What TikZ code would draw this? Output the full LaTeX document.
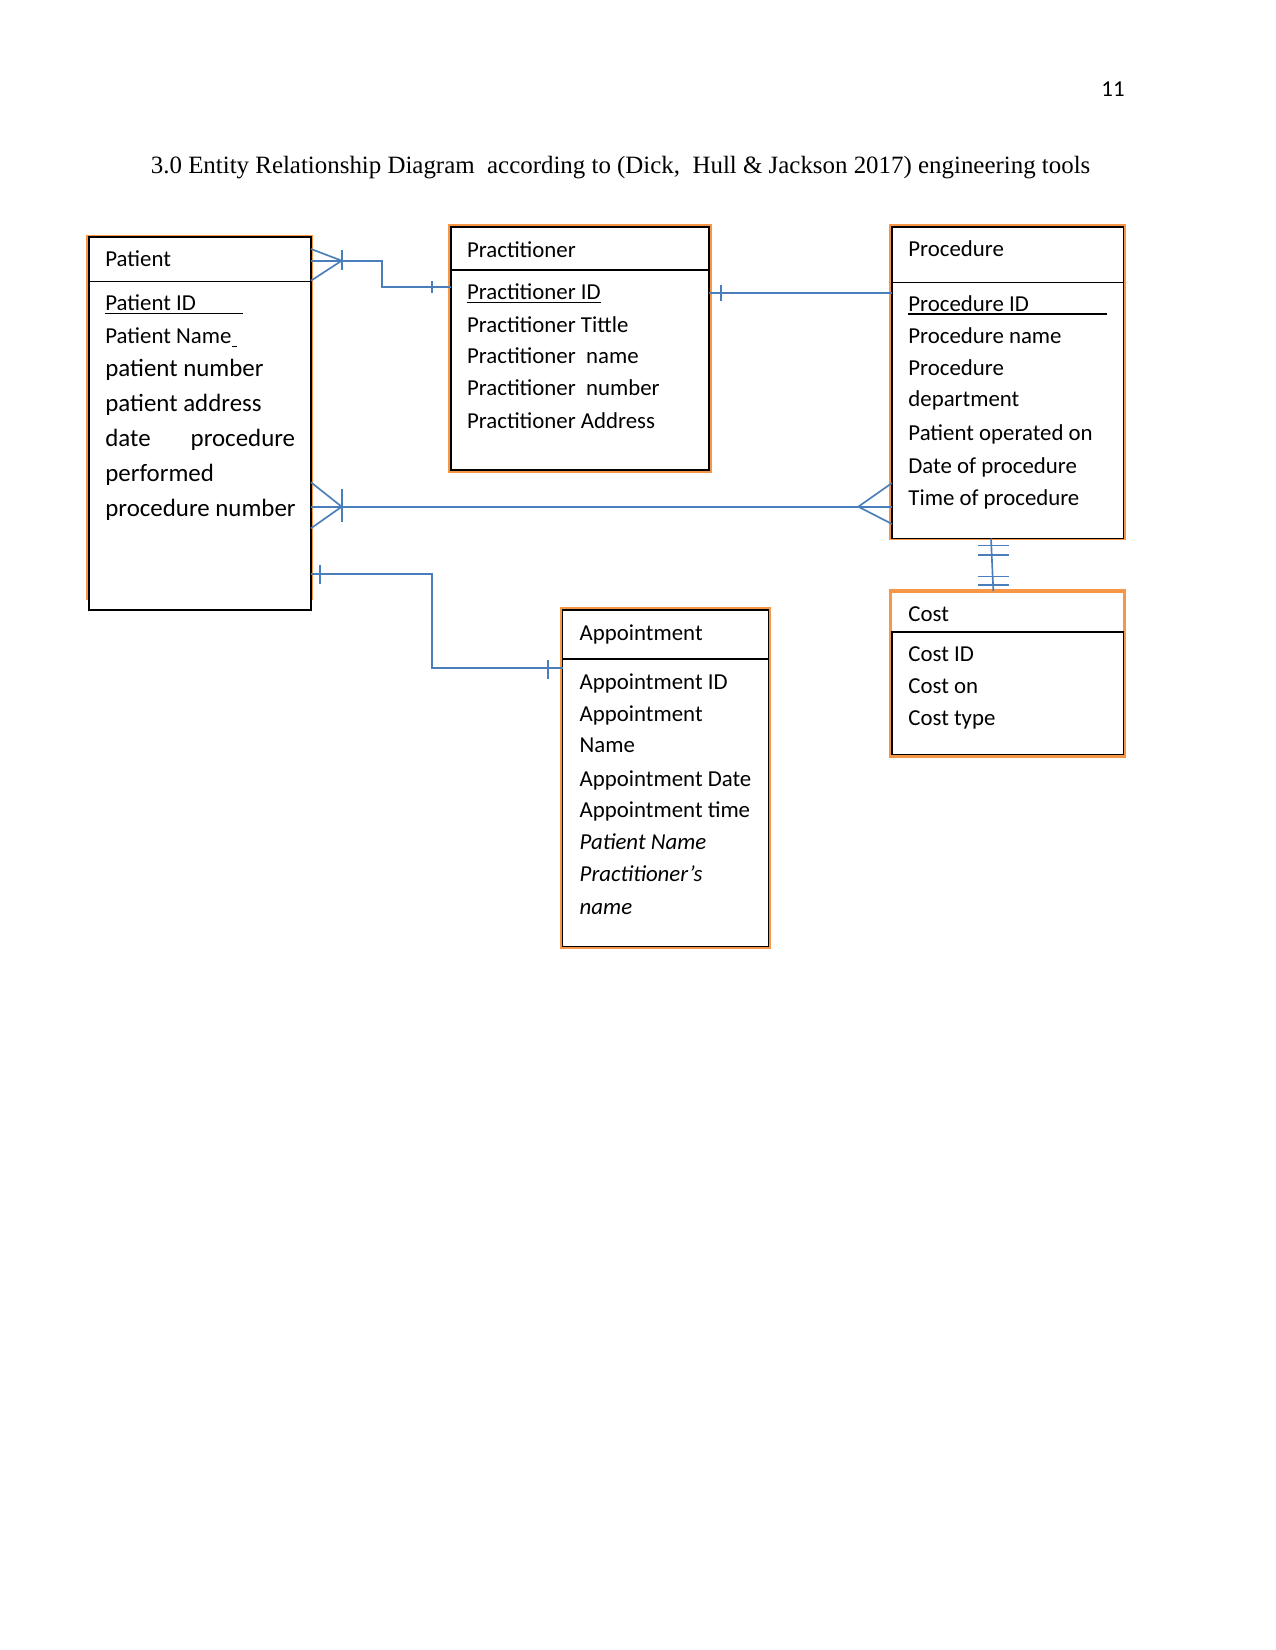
\documentclass[tikz,border=0pt]{standalone}
\usepackage{fontspec}
\setmainfont{Carlito}
\newfontfamily\titlefont{Liberation Serif}
\usetikzlibrary{calc}
\definecolor{orangeW}{HTML}{F79646}
\definecolor{blueW}{HTML}{4A7EBB}
\def\pxu{0.4818pt}
\begin{document}
\begin{tikzpicture}[x=0.4818pt,y=-0.4818pt,
 ent/.style={draw=black, line width=0.6pt, rectangle, inner sep=0pt, outer sep=0pt, anchor=north west},
 fr/.style={draw=orangeW, line width=1.1pt, rectangle, inner sep=0pt, outer sep=0pt, anchor=north west},
 conn/.style={draw=blueW, line width=0.8pt},
 divl/.style={draw=black, line width=0.6pt},
 ul/.style={draw=black, line width=0.5pt},
 t/.style={anchor=base west, inner sep=0pt, font=\fontsize{11}{13}\selectfont},
 tb/.style={anchor=base west, inner sep=0pt, font=\fontsize{12}{14}\selectfont},
 ti/.style={anchor=base west, inner sep=0pt, font=\fontsize{11}{13}\selectfont\itshape},
]
\useasboundingbox[fill=white] (0,0) rectangle (1275,1650);

% page number and title
\node[anchor=base east, inner sep=0pt, font=\fontsize{11}{13}\selectfont] (pagenum) at (1125,97) {11};
\node[anchor=base west, inner sep=0pt, font=\titlefont\fontsize{12}{14}\selectfont] (title) at (150.5,174)
 {3.0 Entity Relationship Diagram\ \ according to (Dick,\ \ Hull \& Jackson 2017) engineering tools};

% ---------- frames ----------
\draw[draw=orangeW, line width=1.1pt] (87.5,600) -- (87.5,236) -- (312.3,236) -- (312.3,600);
\node[ent, minimum width=222*\pxu, minimum height=373*\pxu] (patient) at (89,237) {};

\node[fr, minimum width=261.5*\pxu, minimum height=246*\pxu] (practitionerfr) at (449.5,225.5) {};
\node[ent, line width=0.8pt, minimum width=258*\pxu, minimum height=243*\pxu] (practitioner) at (451,227) {};

\node[fr, minimum width=234.5*\pxu, minimum height=313.5*\pxu] (procedurefr) at (890.5,225.3) {};
\node[ent, minimum width=231.5*\pxu, minimum height=311.5*\pxu] (procedure) at (892,227) {};

\node[fr, line width=1.8pt, minimum width=234*\pxu, minimum height=165*\pxu] (costfr) at (890.5,591) {};
\node[ent, minimum width=231.5*\pxu, minimum height=122.5*\pxu] (cost) at (892,632) {};

\node[fr, minimum width=209*\pxu, minimum height=339.7*\pxu] (appointmentfr) at (561,608.5) {};
\node[ent, minimum width=205.6*\pxu, minimum height=336.7*\pxu] (appointment) at (562.7,610) {};

% dividers
\coordinate (dpat) at (0,281.3);
\coordinate (dpra) at (0,270);
\coordinate (dpro) at (0,282.3);
\coordinate (dapp) at (0,659);
\draw[divl] (patient.west |- dpat) -- (patient.east |- dpat);
\draw[divl, line width=1.2pt] (practitioner.west |- dpra) -- (practitioner.east |- dpra);
\draw[divl] (procedure.west |- dpro) -- (procedure.east |- dpro);
\draw[divl] (appointment.west |- dapp) -- (appointment.east |- dapp);

% ---------- Patient ----------
\node[t] (pat0) at (105,266.7) {Patient};
\node[t] (pat1) at (105,310.7) {Patient ID};
\draw[ul] (105,313.8) -- (242.7,313.8);
\node[t] (pat2) at (105,343.3) {Patient Name};
\draw[ul] (pat2.base east) ++(0,3) -- ++(5,0);
\node[tb] (pat3) at (105,376.7) {patient number};
\node[tb] (pat4) at (105,411.7) {patient address};
\node[tb] (pat5a) at (105,446.7) {date};
\node[tb, anchor=base east] (pat5b) at (295.5,446.7) {procedure};
\node[tb] (pat6) at (105,481.7) {performed};
\node[tb] (pat7) at (105,516.7) {procedure number};

% ---------- Practitioner ----------
\node[t] (pr0) at (466.7,257.3) {Practitioner};
\node[t] (pr1) at (466.7,300) {Practitioner ID};
\draw[ul] (pr1.base west) ++(0,2.2) -- (pr1.base east |- 0,302.2);
\node[t] (pr2) at (466.7,332.3) {Practitioner Tittle};
\node[t] (pr3) at (466.7,364) {Practitioner\ \ name};
\node[t] (pr4) at (466.7,396) {Practitioner\ \ number};
\node[t] (pr5) at (466.7,428.3) {Practitioner Address};

% ---------- Procedure ----------
\node[t] (pc0) at (908,256.3) {Procedure};
\node[t] (pc1) at (908,311.7) {Procedure ID};
\draw[ul] (908,314) -- (1106.7,314);
\node[t] (pc2) at (908,343.6) {Procedure name};
\node[t] (pc3) at (908,375.8) {Procedure};
\node[t] (pc4) at (908,406.9) {department};
\node[t] (pc5) at (908,440.5) {Patient operated on};
\node[t] (pc6) at (908,473.4) {Date of procedure};
\node[t] (pc7) at (908,505.6) {Time of procedure};

% ---------- Cost ----------
\node[t] (c0) at (908,621.5) {Cost};
\node[t] (c1) at (908,661.3) {Cost ID};
\node[t] (c2) at (908,693.2) {Cost on};
\node[t] (c3) at (908,725.4) {Cost type};

% ---------- Appointment ----------
\node[t] (a0) at (579.3,640) {Appointment};
\node[t] (a1) at (579.3,689) {Appointment ID};
\node[t] (a2) at (579.3,721) {Appointment};
\node[t] (a3) at (579.3,752.7) {Name};
\node[t] (a4) at (579.3,786) {Appointment Date};
\node[t] (a5) at (579.3,817.7) {Appointment time};
\node[ti] (a6) at (579.3,849.3) {Patient Name};
\node[ti] (a7) at (579.3,881.7) {Practitioner’s};
\node[ti] (a8) at (579.3,914) {name};

% ---------- connectors ----------
% Patient -- Practitioner
\coordinate (k1) at (381.7,260.7);
\coordinate (k2) at (381.7,287.3);
\coordinate (pe1) at (patient.east |- k1);
\coordinate (pw1) at (practitioner.west |- k2);
\draw[conn] (pe1) -- (k1) -- (k2) -- (pw1);
\draw[conn] ($(pe1)+(0,-11.7)$) -- ($(pe1)+(30.7,0)$) -- ($(pe1)+(0,20)$);
\draw[conn] ($(pe1)+(30.7,-10.5)$) -- ++(0,19.5);
\draw[conn] ($(pw1)+(-19,-5.8)$) -- ++(0,11.6);

% Practitioner -- Procedure
\coordinate (k3) at (0,293.3);
\coordinate (pre) at (practitioner.east |- k3);
\draw[conn] (pre) -- (procedure.west |- k3);
\draw[conn] ($(pre)+(12,-8)$) -- ++(0,16);

% Patient -- Procedure
\coordinate (k4) at (0,506.7);
\coordinate (pe2) at (patient.east |- k4);
\coordinate (pw2) at (procedure.west |- k4);
\draw[conn] (pe2) -- (pw2);
\draw[conn] ($(pe2)+(0,-24.4)$) -- ($(pe2)+(30.7,0)$) -- ($(pe2)+(0,21.6)$);
\draw[conn] ($(pe2)+(30.7,-17.7)$) -- ++(0,32.7);
\draw[conn] ($(pw2)+(0,-23.7)$) -- ($(pw2)+(-33.7,0)$) -- ($(pw2)+(0,17.3)$);

% Procedure -- Cost
\coordinate (k5) at (991,0);
\coordinate (k6) at (993.3,0);
\coordinate (ps) at (procedure.south -| k5);
\draw[conn] (ps) -- (costfr.north -| k6);
\foreach \yy in {7,16.6,38.1,46.8}{
  \draw[conn] ($(ps)+(-13,\yy)$) -- ++(31,0);
}

% Patient -- Appointment
\coordinate (k7) at (432.3,574);
\coordinate (k8) at (432.3,667.7);
\coordinate (pe3) at (patient.east |- k7);
\coordinate (aw) at (appointment.west |- k8);
\draw[conn] (pe3) -- (k7) -- (k8) -- (aw);
\draw[conn] ($(pe3)+(8.7,-9.5)$) -- ++(0,19.3);
\draw[conn] ($(aw)+(-14.4,-7.7)$) -- ++(0,19.3);
\end{tikzpicture}
\end{document}
